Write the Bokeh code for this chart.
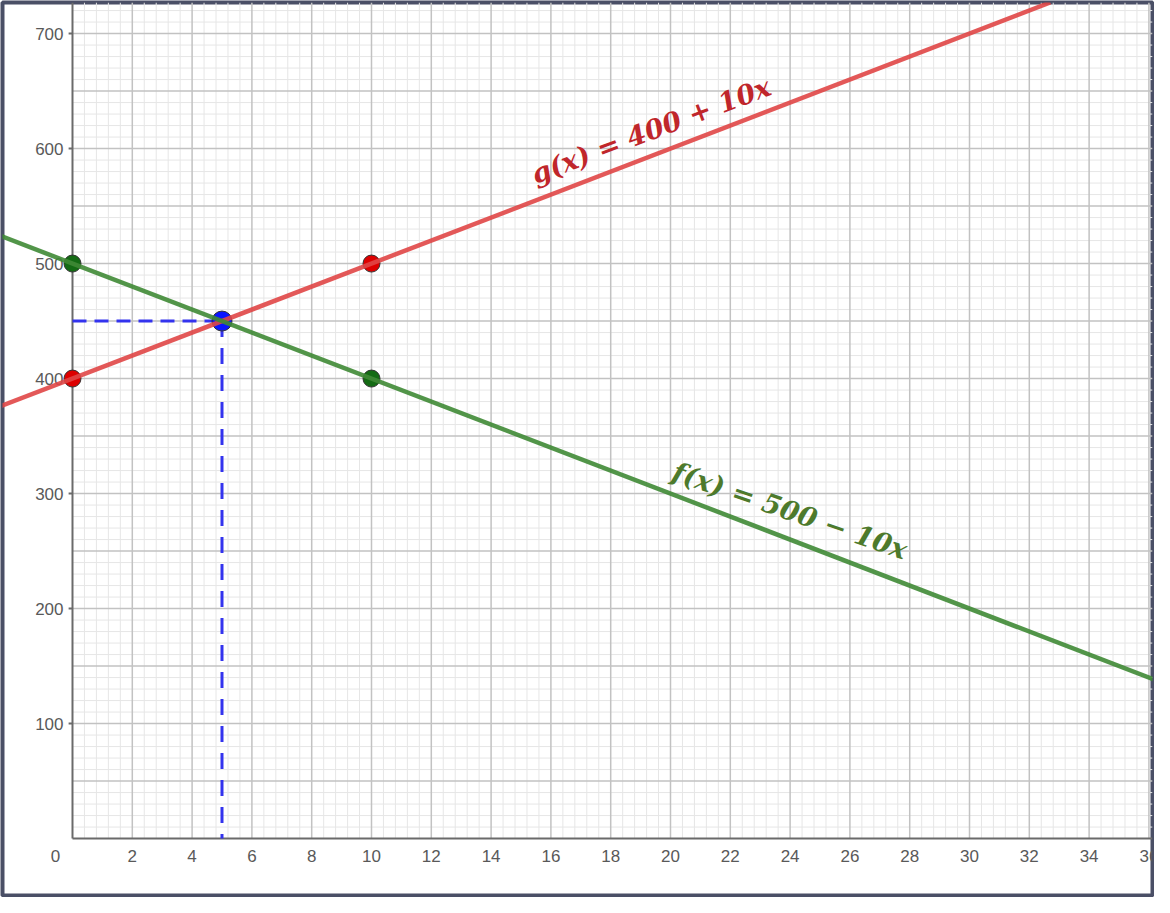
import numpy as np
from bokeh.plotting import figure
from bokeh.models import Slope
from bokeh.core.properties import value
from bokeh.embed import file_html
from bokeh.resources import INLINE

# ---- data ----
f_intercept, f_slope = 500, -10      # f(x) = 500 - 10x
g_intercept, g_slope = 400, 10       # g(x) = 400 + 10x
red_x = [0, 10]
red_y = [400, 500]
green_x = [0, 10]
green_y = [500, 400]
meet_x = [5]
meet_y = [450]
x_tick_values = list(range(2, 38, 2))
x_tick_labels = [str(v) for v in x_tick_values]
y_tick_values = [100, 200, 300, 400, 500, 600, 700]
y_tick_labels = [str(v) for v in y_tick_values]
g_label = "g(x) = 400 + 10x"
f_label = "f(x) = 500 \u2212 10x"

W, H = 1154, 897
x0, x1 = -2.341, 36.12
y0, y1 = -49.5, 727.0

p = figure(width=W, height=H, x_range=(x0, x1), y_range=(y0, y1),
           output_backend="svg", toolbar_location=None,
           x_axis_location=None, y_axis_location=None,
           min_border=2, min_border_left=2, min_border_right=2,
           min_border_top=2, min_border_bottom=2)
p.grid.visible = False
p.background_fill_color = "white"
p.border_fill_color = "white"
p.outline_line_color = "#4a4f66"
p.outline_line_width = 4

# ---- grid (first quadrant only) ----
minor_x = [v for v in np.arange(0, 36.6, 0.4) if abs(v / 2 - round(v / 2)) > 1e-6]
minor_y = [v for v in np.arange(0, 740, 10) if v % 50 != 0]
major_x = list(np.arange(2, 37, 2))
major_y = list(np.arange(50, 750, 50))
p.segment(x0=minor_x, y0=0, x1=minor_x, y1=y1, line_color="#e6e6e6", line_width=1)
p.segment(x0=0, y0=minor_y, x1=x1, y1=minor_y, line_color="#e6e6e6", line_width=1)
p.segment(x0=major_x, y0=0, x1=major_x, y1=y1, line_color="#c2c2c2", line_width=1.5)
p.segment(x0=0, y0=major_y, x1=x1, y1=major_y, line_color="#c2c2c2", line_width=1.5)

# ---- axes ----
p.segment(x0=[0], y0=[0], x1=[0], y1=[y1], line_color="#6a6a6a", line_width=2)
p.segment(x0=[0], y0=[0], x1=[x1], y1=[0], line_color="#6a6a6a", line_width=2)
p.segment(x0=-0.13, y0=y_tick_values, x1=0, y1=y_tick_values,
          line_color="#6a6a6a", line_width=2)

p.text(x=x_tick_values, y=[0] * len(x_tick_values), text=x_tick_labels,
       text_align="center", text_baseline="middle", y_offset=17,
       text_font=value("Liberation Sans"), text_font_size="17px", text_color="#595959")
p.text(x=[0], y=[0], text=["0"], text_align="center", text_baseline="middle",
       x_offset=-17, y_offset=17,
       text_font=value("Liberation Sans"), text_font_size="17px", text_color="#595959")
p.text(x=[0] * len(y_tick_values), y=y_tick_values, text=y_tick_labels,
       text_align="right", text_baseline="middle", x_offset=-9,
       text_font=value("Liberation Sans"), text_font_size="17px", text_color="#595959")

# ---- lines ----
p.add_layout(Slope(gradient=g_slope, y_intercept=g_intercept,
                   line_color="#e04646", line_width=4.5, line_alpha=0.9))
p.add_layout(Slope(gradient=f_slope, y_intercept=f_intercept,
                   line_color="#3f8a35", line_width=4.5, line_alpha=0.9))

# ---- dashed guides ----
p.segment(x0=[0], y0=meet_y, x1=meet_x, y1=meet_y, line_color="#3333ee",
          line_width=3, line_dash="14 8")
p.segment(x0=meet_x, y0=meet_y, x1=meet_x, y1=[0], line_color="#3333ee",
          line_width=3, line_dash="16 11")

# ---- points ----
p.scatter(x=red_x, y=red_y, size=17, fill_color="#dd0000", line_color="#333333", line_width=1)
p.scatter(x=green_x, y=green_y, size=17, fill_color="#146b14", line_color="#333333", line_width=1)
p.scatter(x=meet_x, y=meet_y, size=20, fill_color="#0a14ff", line_color="#333333", line_width=1)

# ---- labels ----
p.text(x=[15.38], y=[577], text=[g_label], angle=20.7, angle_units="deg",
       text_align="left", text_baseline="alphabetic",
       text_font=value("DejaVu Serif"), text_font_style="bold italic",
       text_font_size="27px", text_color="#c0262b")
p.text(x=[20.1], y=[320], text=[f_label], angle=-19, angle_units="deg",
       text_align="left", text_baseline="alphabetic",
       text_font=value("DejaVu Serif"), text_font_style="bold italic",
       text_font_size="27px", text_color="#4d7a2c")

open("out.html", "w").write(file_html(p, INLINE))
